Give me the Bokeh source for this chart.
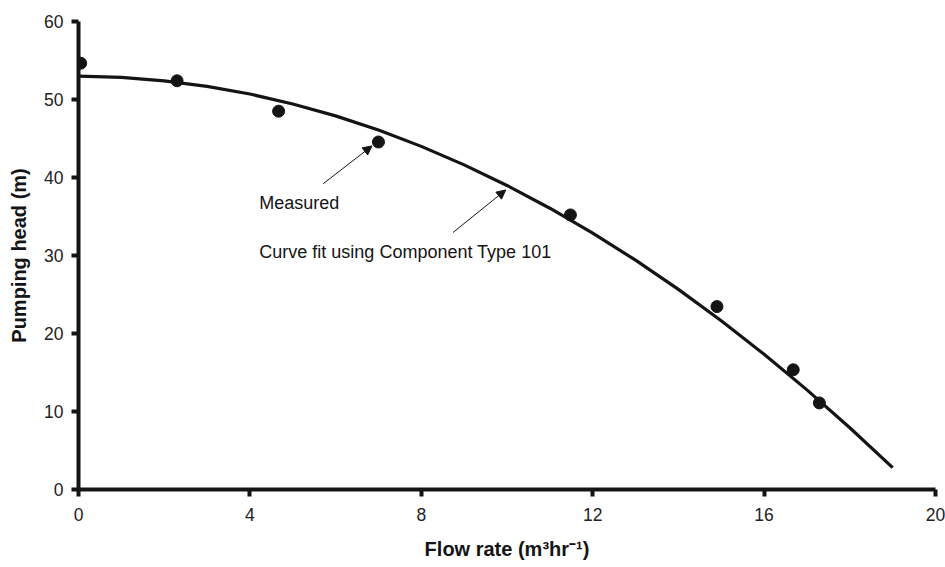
from bokeh.plotting import figure
from bokeh.models import Arrow, NormalHead, Label, Range1d, FixedTicker
from bokeh.embed import file_html
from bokeh.resources import INLINE

# Measured pump performance points
flow_measured = [0.05, 2.3, 4.67, 7.0, 11.48, 14.9, 16.68, 17.29]
head_measured = [54.65, 52.4, 48.5, 44.55, 35.2, 23.45, 15.35, 11.1]

# Curve fit (Component Type 101) sampled along the flow axis
flow_fit = [0, 1, 2, 3, 4, 5, 6, 7, 8, 9, 10, 11, 12, 13, 14, 15, 16, 17, 18, 19]
head_fit = [52.99, 52.83, 52.39, 51.68, 50.70, 49.43, 47.90, 46.08, 43.99, 41.62,
            38.98, 36.06, 32.87, 29.40, 25.66, 21.63, 17.34, 12.77, 7.92, 2.80]

x_ticks = [0, 4, 8, 12, 16, 20]
y_ticks = [0, 10, 20, 30, 40, 50, 60]

FONT = "Liberation Sans"
INK = "#141414"

p = figure(width=945, height=567, output_backend="svg", toolbar_location=None,
           x_range=Range1d(0, 20), y_range=Range1d(0, 60),
           min_border_left=78, min_border_right=10,
           min_border_top=21, min_border_bottom=78)

p.outline_line_color = None
p.xgrid.visible = False
p.ygrid.visible = False
p.background_fill_color = "white"
p.border_fill_color = "white"

for ax in (p.xaxis[0], p.yaxis[0]):
    ax.axis_line_width = 4
    ax.axis_line_color = INK
    ax.major_tick_line_width = 4
    ax.major_tick_line_color = INK
    ax.major_tick_in = 0
    ax.major_tick_out = 7
    ax.minor_tick_line_color = None
    ax.major_label_text_font = FONT
    ax.major_label_text_font_size = "17.5px"
    ax.major_label_text_color = "#222222"
    ax.axis_label_text_font = FONT
    ax.axis_label_text_font_style = "bold"
    ax.axis_label_text_font_size = "20px"
    ax.axis_label_text_color = INK

p.xaxis.ticker = FixedTicker(ticks=x_ticks)
p.yaxis.ticker = FixedTicker(ticks=y_ticks)
p.xaxis.major_label_standoff = 11
p.yaxis.major_label_standoff = 8
p.xaxis.axis_label = "Flow rate (m³hr⁻¹)"
p.yaxis.axis_label = "Pumping head (m)"
p.xaxis.axis_label_standoff = 14
p.yaxis.axis_label_standoff = 11

# Fitted curve and measured points
p.line(flow_fit, head_fit, line_width=3.2, line_color=INK, line_join="round")
p.scatter(flow_measured, head_measured, size=12, marker="circle",
          fill_color=INK, line_color=INK)

# Annotation arrows pointing to a measured point and to the fit
for xs, ys, xe, ye in [(5.71, 39.2, 6.85, 44.05), (8.74, 32.95, 9.97, 38.4)]:
    p.add_layout(Arrow(x_start=xs, y_start=ys, x_end=xe, y_end=ye,
                       line_width=1, line_color=INK,
                       end=NormalHead(size=9, fill_color=INK, line_color=INK,
                                      line_width=1)))

p.add_layout(Label(x=4.22, y=36.75, text="Measured", text_font=FONT,
                   text_font_size="18px", text_color=INK,
                   text_baseline="alphabetic"))
p.add_layout(Label(x=4.22, y=30.45, text="Curve fit using Component Type 101",
                   text_font=FONT, text_font_size="18px", text_color=INK,
                   text_baseline="alphabetic"))

open("out.html", "w").write(file_html(p, INLINE))
